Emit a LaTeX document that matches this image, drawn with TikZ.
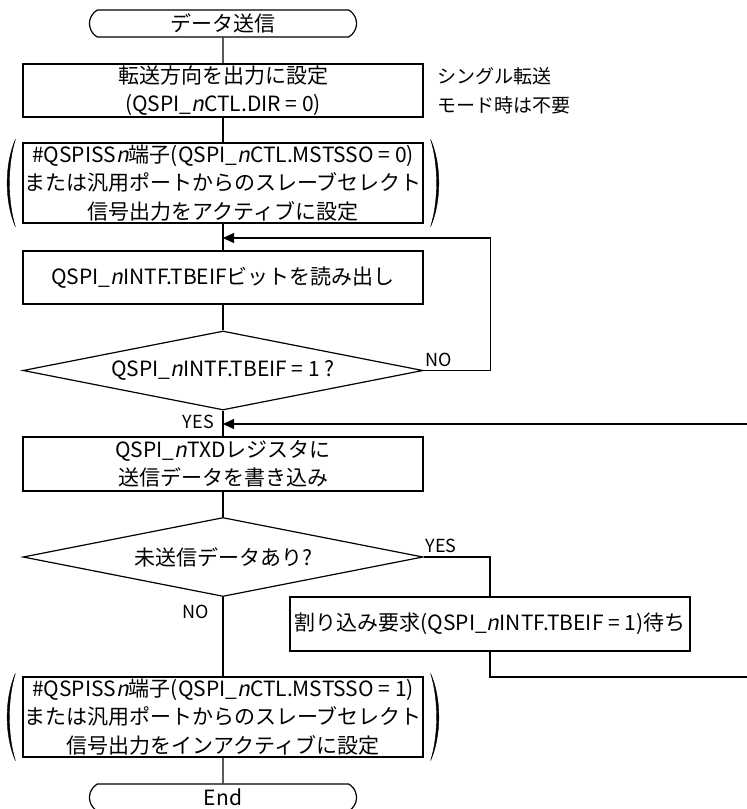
\documentclass[tikz,border=0pt]{standalone}
\usepackage{fontspec}
\setmainfont{Noto Sans CJK JP}
\newfontfamily\slantfont{Noto Sans CJK JP}[FakeSlant=0.2]
\newcommand\varn{{\slantfont n}}
\usetikzlibrary{arrows.meta,shapes.geometric,shapes.misc}
\tikzset{proc/.style={draw,line width=1.2pt,minimum width=400pt,align=center,inner xsep=1pt,inner ysep=0pt},term/.style={draw,line width=1.2pt,rounded rectangle,rounded rectangle arc length=120,minimum width=267pt,minimum height=27pt,inner sep=0pt},decide/.style={draw,line width=1.2pt,diamond,aspect=5,minimum width=400pt,minimum height=79pt,inner sep=0pt},link/.style={line width=1.2pt},back/.style={line width=1.2pt,-{Triangle[length=11pt,width=10pt]}},tag/.style={inner sep=0pt,font=\fontsize{18}{20}\selectfont}}
\newcommand\bracketpair[1]{%
\filldraw[line width=0.4pt] ([shift={(-7pt,3pt)}]#1.north west) .. controls ([shift={(-18pt,-22pt)}]#1.north west) and ([shift={(-18pt,22pt)}]#1.south west) .. ([shift={(-7pt,-3pt)}]#1.south west) .. controls ([shift={(-15pt,22pt)}]#1.south west) and ([shift={(-15pt,-22pt)}]#1.north west) .. cycle;
\filldraw[line width=0.4pt] ([shift={(7pt,3pt)}]#1.north east) .. controls ([shift={(18pt,-22pt)}]#1.north east) and ([shift={(18pt,22pt)}]#1.south east) .. ([shift={(7pt,-3pt)}]#1.south east) .. controls ([shift={(15pt,22pt)}]#1.south east) and ([shift={(15pt,-22pt)}]#1.north east) .. cycle;}

\begin{document}
\begin{tikzpicture}[x=1pt,y=-1pt,font=\fontsize{21}{28.5}\selectfont]
\useasboundingbox (0,0) rectangle (747,809);
\node[term] (start) at (223,23.5) {データ送信};
\node[proc,minimum height=53pt] (dir) at (223,90.5) {転送方向を出力に設定\\(QSPI\_\varn CTL.DIR = 0)};
\node[anchor=west,align=left,inner sep=0pt,font=\fontsize{19}{29}\selectfont] (note) at (437,91) {シングル転送\\モード時は不要};
\node[proc,minimum height=80pt] (ssact) at (223,183) {\#QSPISS\varn 端子(QSPI\_\varn CTL.MSTSSO = 0)\\または汎用ポートからのスレーブセレクト\\信号出力をアクティブに設定};
\node[proc,minimum height=53pt] (rd) at (223,277.5) {QSPI\_\varn INTF.TBEIFビットを読み出し};
\node[decide] (chk) at (223,370.5) {QSPI\_\varn INTF.TBEIF = 1 ?};
\node[proc,minimum height=54pt] (wr) at (223,464) {QSPI\_\varn TXDレジスタに\\送信データを書き込み};
\node[decide] (more) at (223,557) {未送信データあり?};
\node[proc,minimum height=54pt] (wait) at (490,624) {割り込み要求(QSPI\_\varn INTF.TBEIF = 1)待ち};
\node[proc,minimum height=80pt] (ssinact) at (223,717) {\#QSPISS\varn 端子(QSPI\_\varn CTL.MSTSSO = 1)\\または汎用ポートからのスレーブセレクト\\信号出力をインアクティブに設定};
\node[term] (end) at (223,797.5) {End};
\bracketpair{ssact}
\bracketpair{ssinact}
\coordinate (join1) at (223,238);
\coordinate (join2) at (223,424);
\coordinate (ret) at (747,424);
\coordinate (retb) at (747,677);
\draw[link] (start) -- (dir);
\draw[link] (dir) -- (ssact);
\draw[link] (ssact) -- (rd);
\draw[link] (rd) -- (chk);
\draw[link] (chk) -- (wr);
\draw[link] (wr) -- (more);
\draw[link] (more) -- (ssinact);
\draw[link] (ssinact) -- (end);
\draw[back] (chk.east) -- ++(67,0) |- (join1);
\draw[back] (ret) -- (join2);
\draw[link] (more.east) -| (wait.north);
\draw[link] (wait.south) |- (retb);
\node[tag,anchor=south west] (no1) at ([shift={(2pt,4pt)}]chk.east) {NO};
\node[tag,anchor=north east] (yes1) at ([shift={(-9pt,-4pt)}]chk.south) {YES};
\node[tag,anchor=south west] (yes2) at ([shift={(2pt,4pt)}]more.east) {YES};
\node[tag,anchor=north east] (no2) at ([shift={(-14pt,-8pt)}]more.south) {NO};
\end{tikzpicture}
\end{document}
